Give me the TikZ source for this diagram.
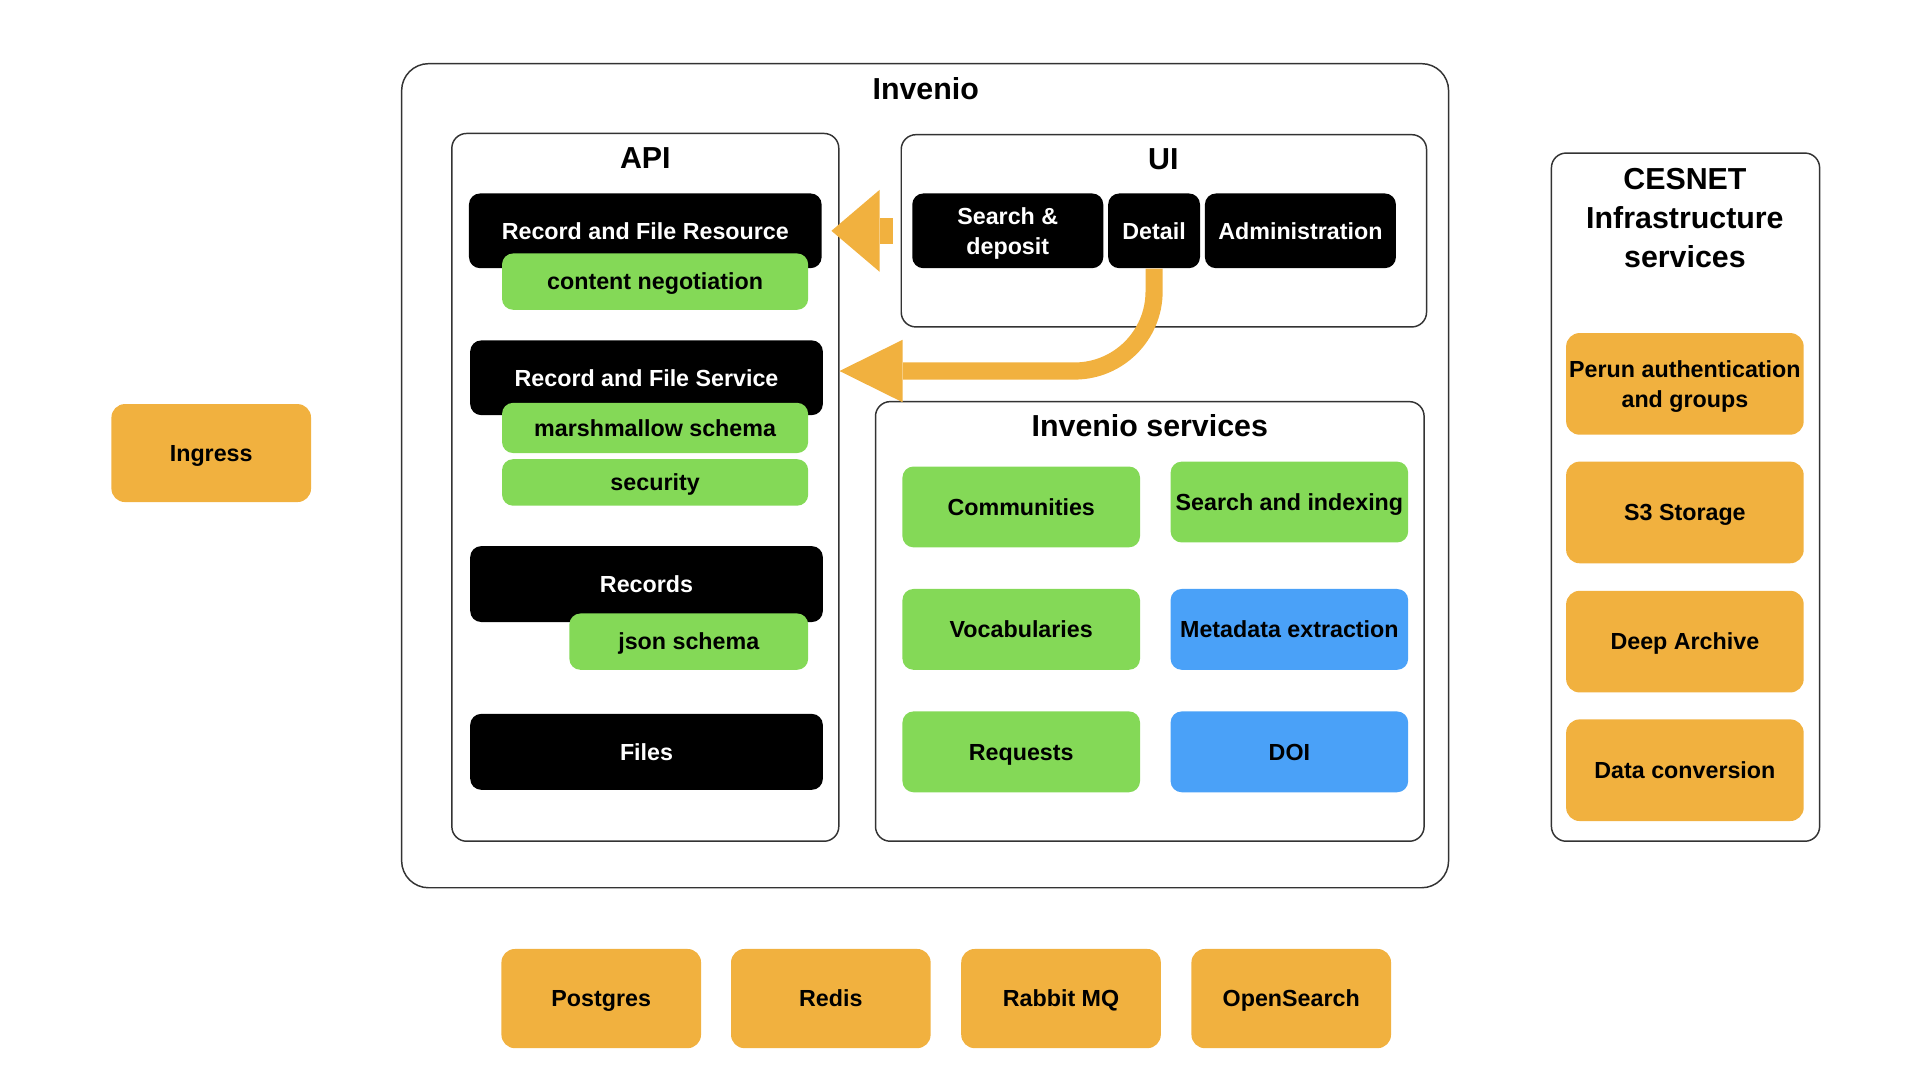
\documentclass[tikz,border=0pt]{standalone}
\usepackage{fontspec}
\setmainfont{Liberation Sans}
\usetikzlibrary{calc}
\definecolor{orng}{HTML}{F1B13F}
\definecolor{grn}{HTML}{84D957}
\definecolor{blu}{HTML}{4AA1F8}
\definecolor{edge}{HTML}{333333}
\newcommand\toppad{\rule{0pt}{9.2pt}}
\begin{document}
\begin{tikzpicture}[x=0.5pt,y=-0.5pt,
  body/.style={font=\bfseries\fontsize{9.5}{12}\selectfont, align=center, inner sep=0pt, text height=6.8pt, text depth=0pt},
  multi/.style={text height=, text depth=},
  frame/.style={draw=edge, line width=0.6pt, rounded corners=6pt, inner sep=0pt},
  ttl/.style={font=\bfseries\fontsize{12.4}{16}\selectfont, align=center, inner sep=0pt},
  blk/.style={body, fill=black, text=white, rounded corners=4.5pt},
  grnbox/.style={body, fill=grn, rounded corners=4.5pt},
  blubox/.style={body, fill=blu, rounded corners=4.5pt},
  orgbox/.style={body, fill=orng, rounded corners=5.5pt},
  fat/.style={orng, line width=7pt}
]
\useasboundingbox (0,0) rectangle (1568,882);
% frames
\node[frame, rounded corners=11pt, minimum width=427.5pt, minimum height=336.5pt] (inv) at (755.5,388.5) {};
\node[ttl] (invt) at (756,72) {Invenio};
\node[frame, minimum width=158pt, minimum height=289pt] (api) at (527,398) {};
\node[ttl] (apit) at (527,129) {API};
\node[frame, minimum width=214.5pt, minimum height=78.5pt] (ui) at (950.5,188.5) {};
\node[ttl] (uit) at (950,130) {UI};
\node[frame, minimum width=224pt, minimum height=179.5pt] (svc) at (939,507.5) {};
\node[ttl] (svct) at (939,348) {Invenio services};
\node[frame, minimum width=109.5pt, minimum height=281pt] (ces) at (1376.5,406) {};
\node[ttl] (cest) at (1376,178) {CESNET\\Infrastructure\\services};
% API
\node[blk, minimum width=144pt, minimum height=30.5pt] (rfr) at (527,188.5) {Record and File Resource};
\node[grnbox, minimum width=125pt, minimum height=23pt] (cn) at (535,230) {content negotiation};
\node[blk, minimum width=144pt, minimum height=30.5pt] (rfs) at (528,308.5) {Record and File Service};
\node[grnbox, minimum width=125pt, minimum height=20.5pt] (ms) at (535,349.5) {marshmallow schema};
\node[grnbox, minimum width=125pt, minimum height=19pt] (sec) at (535,394) {security};
\node[blk, minimum width=144pt, minimum height=31pt] (rec) at (528,477) {Records};
\node[grnbox, minimum width=97.5pt, minimum height=23pt] (js) at (562.5,524) {json schema};
\node[blk, minimum width=144pt, minimum height=31pt] (files) at (528,614) {Files};
% UI
\node[blk, multi, minimum width=78pt, minimum height=30.5pt] (sd) at (823,188.5) {\toppad Search \&\\deposit};
\node[blk, minimum width=37.5pt, minimum height=30.5pt] (det) at (942.5,188.5) {Detail};
\node[blk, minimum width=78pt, minimum height=30.5pt] (adm) at (1062,188.5) {Administration};
% services
\node[grnbox, minimum width=97pt, minimum height=33pt] (com) at (834,414) {Communities};
\node[grnbox, minimum width=97pt, minimum height=33pt] (sai) at (1053,410) {Search and indexing};
\node[grnbox, minimum width=97pt, minimum height=33pt] (voc) at (834,514) {Vocabularies};
\node[blubox, minimum width=97pt, minimum height=33pt] (mex) at (1053,514) {Metadata extraction};
\node[grnbox, minimum width=97pt, minimum height=33pt] (req) at (834,614) {Requests};
\node[blubox, minimum width=97pt, minimum height=33pt] (doi) at (1053,614) {DOI};
% CESNET
\node[orgbox, multi, minimum width=97pt, minimum height=41.5pt] (perun) at (1376,313.5) {\toppad Perun authentication\\and groups};
\node[orgbox, minimum width=97pt, minimum height=41.5pt] (s3) at (1376,418.5) {S3 Storage};
\node[orgbox, minimum width=97pt, minimum height=41.5pt] (deep) at (1376,524) {Deep Archive};
\node[orgbox, minimum width=97pt, minimum height=41.5pt] (dconv) at (1376,629) {Data conversion};
% others
\node[orgbox, minimum width=81.5pt, minimum height=40pt] (ing) at (172.5,370) {Ingress};
\node[orgbox, minimum width=81.5pt, minimum height=40.5pt] (pg) at (491,815.5) {Postgres};
\node[orgbox, minimum width=81.5pt, minimum height=40.5pt] (red) at (678.5,815.5) {Redis};
\node[orgbox, minimum width=81.5pt, minimum height=40.5pt] (rmq) at (866.5,815.5) {Rabbit MQ};
\node[orgbox, minimum width=81.5pt, minimum height=40.5pt] (os) at (1054.5,815.5) {OpenSearch};
% arrow 1: UI -> Record and File Resource
\coordinate (a1tip) at ($(rfr.east)+(7.6,0)$);
\fill[orng] ($(a1tip)+(39.4,-10.5)$) rectangle ($(a1tip)+(50.4,10.5)$);
\fill[orng] (a1tip) -- ($(a1tip)+(39.4,-33.5)$) -- ($(a1tip)+(39.4,33.5)$) -- cycle;
% arrow 2: Detail -> API
\coordinate (a2tip) at ($(api.east)+(0,-95)$);
\draw[fat, rounded corners=32.5pt] (det.south) -- (det.south |- a2tip) -- ($(a2tip)+(52,0)$);
\fill[orng] (a2tip) -- ($(a2tip)+(51.5,-25.5)$) -- ($(a2tip)+(51.5,25.5)$) -- cycle;
\end{tikzpicture}
\end{document}
